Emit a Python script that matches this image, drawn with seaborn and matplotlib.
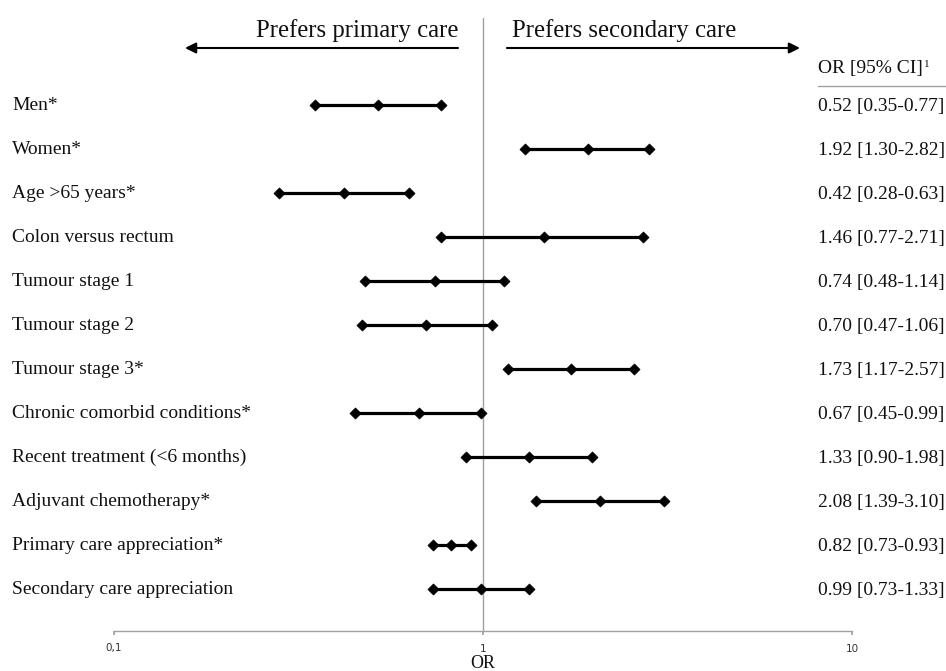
import matplotlib
matplotlib.use("Agg")
import matplotlib.pyplot as plt
import matplotlib.transforms as mtransforms
import seaborn as sns
import pandas as pd

labels = ["Men*", "Women*", "Age >65 years*", "Colon versus rectum",
          "Tumour stage 1", "Tumour stage 2", "Tumour stage 3*",
          "Chronic comorbid conditions*", "Recent treatment (<6 months)",
          "Adjuvant chemotherapy*", "Primary care appreciation*",
          "Secondary care appreciation"]
odds = [0.52, 1.92, 0.42, 1.46, 0.74, 0.70, 1.73, 0.67, 1.33, 2.08, 0.82, 0.99]
ci_low = [0.35, 1.30, 0.28, 0.77, 0.48, 0.47, 1.17, 0.45, 0.90, 1.39, 0.73, 0.73]
ci_high = [0.77, 2.82, 0.63, 2.71, 1.14, 1.06, 2.57, 0.99, 1.98, 3.10, 0.93, 1.33]
x_ticks = [0.1, 1, 10]
x_ticklabels = ["0,1", "1", "10"]

sns.set_theme(style="white")
plt.rcParams["font.family"] = ["Liberation Serif", "DejaVu Serif"]

W, H = 946, 671
fig = plt.figure(figsize=(W / 100, H / 100), dpi=100)
ax = fig.add_axes([114 / W, (H - 631) / H, 738 / W, 631 / H])

rows = list(range(len(labels)))
df = pd.DataFrame({"label": labels, "row": rows, "odds": odds,
                   "lo": ci_low, "hi": ci_high})
long = df.melt(id_vars=["label", "row"], value_vars=["lo", "odds", "hi"],
               var_name="kind", value_name="value")

ax.hlines(df["row"], df["lo"], df["hi"], color="black", lw=2.3, zorder=3)
sns.scatterplot(data=long, x="value", y="row", marker="D", color="black",
                s=32, edgecolor="black", linewidth=0.5, zorder=4, ax=ax,
                legend=False)

ax.set_xscale("log")
ax.set_xlim(0.1, 10)
ax.set_ylim((631 - 105) / 44, -105 / 44)

ax.axvline(1, ymin=0, ymax=(631 - 18) / 631, color="#a0a0a0", lw=1.0, zorder=1)

for s in ["top", "right", "left"]:
    ax.spines[s].set_visible(False)
ax.spines["bottom"].set_color("#a0a0a0")
ax.spines["bottom"].set_linewidth(1.0)
ax.set_xticks(x_ticks)
ax.set_xticklabels(x_ticklabels, family="DejaVu Sans", fontsize=7.5,
                   color="#333333")
ax.xaxis.set_minor_locator(matplotlib.ticker.NullLocator())
ax.tick_params(axis="x", direction="out", length=3, color="#a0a0a0", pad=6,
               bottom=True)
ax.set_yticks([])
ax.set_ylabel("")
ax.set_xlabel("OR", fontsize=13, labelpad=1, color="#111111")

trans_left = mtransforms.blended_transform_factory(fig.transFigure, ax.transData)
for r, lab in zip(rows, labels):
    ax.text(12 / W, r, lab, transform=trans_left, ha="left", va="center",
            fontsize=14, color="#111111")
for r, o, lo, hi in zip(rows, odds, ci_low, ci_high):
    ax.text(818 / W, r + 0.03, f"{o:.2f} [{lo:.2f}-{hi:.2f}]", transform=trans_left,
            ha="left", va="center", fontsize=14, color="#111111")

hdr = fig.text(818 / W, 1 - 68 / H, "OR [95% CI]", ha="left", va="center",
               fontsize=14, color="#111111")
ax.annotate("1", xy=(1, 0.95), xycoords=hdr, xytext=(1, 0),
            textcoords="offset points", fontsize=8, color="#111111",
            ha="left", va="top")
fig.add_artist(plt.Line2D([818 / W, 946 / W], [1 - 86 / H, 1 - 86 / H],
                          color="#a0a0a0", lw=1.0))

fig.text(458 / W, 1 - 37 / H, "Prefers primary care", ha="right", va="baseline",
         fontsize=17.8, color="#111111")
fig.text(512 / W, 1 - 37 / H, "Prefers secondary care", ha="left", va="baseline",
         fontsize=17.8, color="#111111")

ax.annotate("", xy=(185 / W, 1 - 48 / H), xytext=(458 / W, 1 - 48 / H),
            xycoords="figure fraction", textcoords="figure fraction",
            arrowprops=dict(arrowstyle="-|>", color="black", lw=1.5,
                            mutation_scale=16, shrinkA=0, shrinkB=0))
ax.annotate("", xy=(800 / W, 1 - 48 / H), xytext=(507 / W, 1 - 48 / H),
            xycoords="figure fraction", textcoords="figure fraction",
            arrowprops=dict(arrowstyle="-|>", color="black", lw=1.5,
                            mutation_scale=16, shrinkA=0, shrinkB=0))

fig.savefig("out.png", dpi=100)
